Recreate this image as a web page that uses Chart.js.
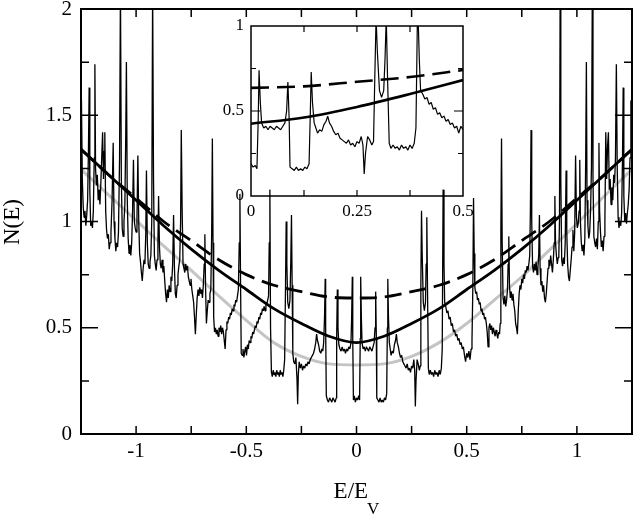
<!DOCTYPE html>
<html>
<head>
<meta charset="utf-8">
<script src="https://cdn.jsdelivr.net/npm/chart.js@4.4.1/dist/chart.umd.min.js"></script>
<style>
  body { margin: 0; background: #fff; }
  #wrap { position: relative; width: 635px; height: 518px; }
  #main { position: absolute; left: 0; top: 0; }
  #inset { position: absolute; left: 200px; top: 10px; }
</style>
</head>
<body>
<div id="wrap">
  <canvas id="main" width="635" height="518"></canvas>
  <canvas id="inset" width="280" height="225"></canvas>
</div>
<script>
// Density of states N(E), thin noisy curve (main panel)
const dosE = [
  -1.250,-1.248,-1.244,-1.240,-1.236,-1.232,-1.228,-1.224,-1.220,-1.216,
  -1.213,-1.210,-1.206,-1.202,-1.198,-1.194,-1.190,-1.187,-1.184,-1.180,
  -1.176,-1.172,-1.168,-1.164,-1.160,-1.156,-1.152,-1.148,-1.145,-1.142,
  -1.138,-1.134,-1.130,-1.126,-1.122,-1.118,-1.114,-1.109,-1.104,-1.100,
  -1.096,-1.092,-1.088,-1.084,-1.080,-1.075,-1.071,-1.067,-1.063,-1.059,
  -1.055,-1.051,-1.047,-1.044,-1.040,-1.036,-1.032,-1.028,-1.024,-1.020,
  -1.016,-1.012,-1.008,-1.004,-1.000,-0.996,-0.992,-0.988,-0.984,-0.980,
  -0.976,-0.972,-0.968,-0.964,-0.960,-0.956,-0.953,-0.949,-0.945,-0.941,
  -0.937,-0.933,-0.929,-0.925,-0.921,-0.917,-0.913,-0.909,-0.905,-0.901,
  -0.898,-0.894,-0.890,-0.886,-0.882,-0.878,-0.874,-0.870,-0.866,-0.862,
  -0.858,-0.854,-0.850,-0.846,-0.842,-0.838,-0.834,-0.830,-0.826,-0.822,
  -0.818,-0.814,-0.810,-0.806,-0.802,-0.798,-0.795,-0.791,-0.787,-0.783,
  -0.779,-0.775,-0.771,-0.767,-0.763,-0.759,-0.755,-0.751,-0.747,-0.743,
  -0.739,-0.735,-0.731,-0.727,-0.723,-0.719,-0.715,-0.711,-0.707,-0.703,
  -0.699,-0.695,-0.691,-0.688,-0.685,-0.681,-0.677,-0.673,-0.669,-0.665,
  -0.661,-0.657,-0.654,-0.651,-0.648,-0.644,-0.640,-0.636,-0.632,-0.628,
  -0.624,-0.620,-0.616,-0.612,-0.608,-0.604,-0.600,-0.596,-0.592,-0.588,
  -0.584,-0.580,-0.576,-0.572,-0.568,-0.564,-0.560,-0.556,-0.552,-0.548,
  -0.544,-0.540,-0.536,-0.532,-0.529,-0.526,-0.523,-0.519,-0.515,-0.511,
  -0.507,-0.503,-0.499,-0.495,-0.491,-0.487,-0.483,-0.479,-0.475,-0.471,
  -0.467,-0.463,-0.459,-0.455,-0.451,-0.447,-0.443,-0.439,-0.435,-0.431,
  -0.427,-0.423,-0.419,-0.415,-0.411,-0.407,-0.403,-0.399,-0.396,-0.393,
  -0.390,-0.386,-0.382,-0.378,-0.374,-0.370,-0.366,-0.362,-0.358,-0.354,
  -0.350,-0.346,-0.342,-0.338,-0.334,-0.330,-0.326,-0.322,-0.319,-0.316,
  -0.312,-0.307,-0.302,-0.298,-0.295,-0.292,-0.289,-0.285,-0.280,-0.275,
  -0.270,-0.267,-0.264,-0.260,-0.255,-0.250,-0.245,-0.240,-0.235,-0.230,
  -0.225,-0.220,-0.215,-0.210,-0.205,-0.200,-0.195,-0.190,-0.185,-0.181,
  -0.177,-0.172,-0.167,-0.162,-0.157,-0.153,-0.149,-0.145,-0.142,-0.140,
  -0.137,-0.132,-0.127,-0.122,-0.117,-0.112,-0.107,-0.102,-0.097,-0.092,
  -0.090,-0.087,-0.084,-0.080,-0.075,-0.070,-0.065,-0.060,-0.055,-0.050,
  -0.045,-0.040,-0.035,-0.030,-0.025,-0.022,-0.019,-0.017,-0.014,-0.010,
  -0.005, 0.000, 0.005, 0.010, 0.014, 0.017, 0.019, 0.022, 0.025, 0.030,
   0.035, 0.040, 0.045, 0.050, 0.055, 0.060, 0.065, 0.070, 0.075, 0.080,
   0.084, 0.087, 0.090, 0.092, 0.097, 0.102, 0.107, 0.112, 0.117, 0.122,
   0.127, 0.132, 0.137, 0.140, 0.142, 0.145, 0.149, 0.153, 0.157, 0.162,
   0.167, 0.172, 0.177, 0.181, 0.185, 0.190, 0.195, 0.200, 0.205, 0.210,
   0.215, 0.220, 0.225, 0.230, 0.235, 0.240, 0.245, 0.250, 0.255, 0.260,
   0.264, 0.267, 0.270, 0.275, 0.280, 0.285, 0.289, 0.292, 0.295, 0.298,
   0.303, 0.308, 0.313, 0.316, 0.319, 0.322, 0.326, 0.330, 0.335, 0.340,
   0.345, 0.350, 0.355, 0.360, 0.365, 0.370, 0.375, 0.380, 0.385, 0.389,
   0.393, 0.397, 0.400, 0.405, 0.410, 0.415, 0.420, 0.425, 0.430, 0.435,
   0.440, 0.445, 0.450, 0.455, 0.460, 0.465, 0.470, 0.475, 0.480, 0.485,
   0.490, 0.495, 0.500, 0.505, 0.510, 0.515, 0.520, 0.524, 0.528, 0.531,
   0.534, 0.537, 0.541, 0.545, 0.549, 0.553, 0.557, 0.561, 0.565, 0.569,
   0.573, 0.577, 0.581, 0.585, 0.589, 0.593, 0.597, 0.601, 0.605, 0.609,
   0.613, 0.617, 0.621, 0.625, 0.629, 0.633, 0.637, 0.641, 0.645, 0.649,
   0.652, 0.655, 0.658, 0.661, 0.665, 0.669, 0.673, 0.677, 0.681, 0.685,
   0.688, 0.691, 0.694, 0.698, 0.702, 0.706, 0.710, 0.714, 0.718, 0.722,
   0.726, 0.730, 0.734, 0.738, 0.742, 0.746, 0.750, 0.754, 0.758, 0.762,
   0.766, 0.770, 0.774, 0.778, 0.782, 0.786, 0.789, 0.792, 0.795, 0.799,
   0.803, 0.807, 0.811, 0.815, 0.819, 0.823, 0.827, 0.830, 0.833, 0.837,
   0.841, 0.845, 0.849, 0.853, 0.857, 0.861, 0.865, 0.869, 0.873, 0.877,
   0.881, 0.885, 0.889, 0.893, 0.897, 0.900, 0.903, 0.907, 0.911, 0.915,
   0.918, 0.921, 0.924, 0.927, 0.931, 0.935, 0.939, 0.943, 0.947, 0.951,
   0.954, 0.958, 0.962, 0.966, 0.970, 0.974, 0.978, 0.982, 0.986, 0.990,
   0.994, 0.998, 1.002, 1.006, 1.010, 1.013, 1.016, 1.020, 1.024, 1.028,
   1.032, 1.036, 1.040, 1.043, 1.046, 1.050, 1.054, 1.058, 1.062, 1.066,
   1.070, 1.073, 1.077, 1.081, 1.085, 1.089, 1.093, 1.097, 1.100, 1.103,
   1.107, 1.111, 1.115, 1.119, 1.123, 1.127, 1.131, 1.135, 1.139, 1.143,
   1.147, 1.151, 1.155, 1.159, 1.163, 1.167, 1.171, 1.175, 1.179, 1.183,
   1.187, 1.191, 1.195, 1.199, 1.203, 1.207, 1.210, 1.213, 1.217, 1.221,
   1.225, 1.229, 1.233, 1.237, 1.241, 1.245, 1.248, 1.250
];
const dosN = [
  1.30,1.57,1.20,1.07,1.02,1.05,0.98,1.03,1.10,1.35,
  1.63,1.15,0.98,1.00,0.97,1.05,1.30,1.74,1.25,1.17,
  1.22,1.10,1.15,1.08,1.18,1.30,1.42,1.20,1.33,1.42,
  1.05,0.96,0.92,0.94,0.87,0.90,0.95,1.10,1.37,1.00,
  0.92,0.86,0.90,0.88,0.95,1.30,2.10,1.20,0.97,0.93,
  1.00,1.08,1.40,1.75,1.10,0.92,0.85,0.89,0.84,0.90,
  1.05,1.29,1.00,0.97,0.95,1.02,1.31,1.00,0.85,0.81,
  0.76,0.72,0.78,0.82,0.80,0.95,1.24,0.90,0.80,0.78,
  0.81,0.84,1.00,2.10,1.20,0.84,0.80,0.77,0.82,0.90,
  1.12,0.88,0.80,0.78,0.82,0.76,0.79,0.72,0.66,0.62,
  0.68,0.64,0.70,0.67,0.74,0.72,0.80,1.03,0.78,0.66,
  0.64,0.70,0.75,0.79,0.82,1.00,1.43,1.05,0.80,0.78,
  0.76,0.80,0.77,0.79,0.74,0.72,0.70,0.73,0.68,0.65,
  0.62,0.55,0.47,0.56,0.64,0.68,0.65,0.69,0.66,0.68,
  0.64,0.70,0.80,0.94,0.70,0.52,0.58,0.63,0.62,0.66,
  0.68,0.95,1.39,0.90,0.55,0.48,0.50,0.47,0.49,0.46,
  0.50,0.48,0.51,0.47,0.50,0.48,0.44,0.40,0.49,0.53,
  0.52,0.55,0.54,0.57,0.56,0.59,0.58,0.61,0.60,0.63,
  0.62,0.65,0.68,0.90,1.13,0.70,0.38,0.37,0.40,0.36,
  0.39,0.41,0.37,0.42,0.40,0.44,0.43,0.46,0.45,0.48,
  0.47,0.49,0.51,0.50,0.53,0.52,0.55,0.54,0.57,0.56,
  0.59,0.58,0.60,0.58,0.62,0.61,0.63,0.65,0.90,1.15,
  0.50,0.29,0.27,0.30,0.28,0.29,0.27,0.30,0.28,0.29,
  0.27,0.30,0.28,0.29,0.27,0.30,0.35,0.70,1.00,0.80,
  0.62,0.59,0.63,0.82,1.03,0.70,0.38,0.34,0.33,0.36,
  0.26,0.14,0.28,0.34,0.31,0.33,0.30,0.32,0.31,0.33,
  0.32,0.34,0.33,0.35,0.36,0.37,0.38,0.40,0.43,0.47,
  0.44,0.42,0.39,0.38,0.40,0.39,0.43,0.55,0.73,0.50,
  0.18,0.16,0.15,0.17,0.16,0.15,0.17,0.16,0.15,0.17,
  0.45,0.68,0.50,0.42,0.40,0.39,0.41,0.39,0.40,0.38,
  0.40,0.39,0.41,0.40,0.43,0.55,0.74,0.45,0.16,0.18,
  0.15,0.17,0.16,0.18,0.16,0.45,0.74,0.55,0.43,0.40,
  0.41,0.39,0.41,0.40,0.39,0.41,0.40,0.39,0.41,0.43,
  0.50,0.67,0.45,0.17,0.16,0.15,0.17,0.15,0.16,0.15,
  0.17,0.16,0.19,0.50,0.73,0.55,0.43,0.40,0.37,0.39,
  0.38,0.42,0.44,0.47,0.43,0.41,0.38,0.36,0.37,0.34,
  0.33,0.32,0.31,0.33,0.30,0.31,0.29,0.32,0.31,0.35,
  0.30,0.13,0.25,0.35,0.33,0.30,0.32,0.70,1.05,0.85,
  0.62,0.58,0.62,0.80,1.02,0.70,0.31,0.28,0.30,0.28,
  0.29,0.27,0.30,0.28,0.29,0.27,0.30,0.28,0.31,0.40,
  1.15,0.80,0.62,0.60,0.57,0.58,0.54,0.55,0.51,0.52,
  0.48,0.49,0.46,0.47,0.44,0.45,0.42,0.43,0.40,0.41,
  0.37,0.34,0.38,0.36,0.39,0.35,0.40,0.44,0.70,1.11,
  0.85,0.69,0.66,0.67,0.63,0.64,0.61,0.62,0.58,0.59,
  0.56,0.57,0.54,0.55,0.52,0.48,0.41,0.50,0.52,0.49,
  0.51,0.47,0.50,0.48,0.46,0.49,0.47,0.45,0.48,0.47,
  0.52,0.95,1.39,0.90,0.64,0.61,0.65,0.60,0.63,0.68,
  0.80,0.93,0.70,0.64,0.67,0.63,0.66,0.61,0.58,0.52,
  0.50,0.47,0.58,0.66,0.70,0.68,0.73,0.71,0.75,0.73,
  0.77,0.76,0.79,0.77,0.80,0.84,1.05,1.43,1.00,0.79,
  0.76,0.80,0.77,0.81,0.75,0.78,0.85,1.03,0.78,0.70,
  0.72,0.67,0.70,0.64,0.62,0.66,0.72,0.78,0.82,0.79,
  0.84,0.80,0.76,0.82,0.90,1.12,0.90,0.84,0.80,0.83,
  0.84,1.00,2.10,1.20,0.82,0.79,0.83,0.80,0.90,1.24,
  0.95,0.80,0.74,0.72,0.77,0.82,0.88,0.96,0.86,0.95,
  1.31,1.02,0.97,0.99,1.05,1.29,1.00,0.90,0.86,0.89,
  0.84,0.92,1.30,1.75,1.10,0.98,0.92,0.95,1.05,1.25,
  2.10,1.20,0.93,0.90,0.88,0.92,0.87,1.00,1.37,1.05,
  0.95,0.88,0.91,0.86,0.93,1.00,1.42,1.20,1.35,1.42,
  1.15,1.20,1.08,1.16,1.10,1.22,1.18,1.30,1.74,1.25,
  1.02,0.97,1.00,0.98,1.04,1.30,1.63,1.12,1.00,1.04,
  0.99,1.04,1.08,1.15,1.30,1.57,1.40,1.30
];

// Smooth model curves (main panel)
const smoothE = [-1.25,-1.125,-1,-0.875,-0.75,-0.625,-0.5,-0.375,-0.25,-0.125,0,
                 0.125,0.25,0.375,0.5,0.625,0.75,0.875,1,1.125,1.25];
const solidN  = [1.34,1.22,1.10,0.98,0.87,0.77,0.68,0.59,0.52,0.46,0.43,
                 0.46,0.52,0.59,0.68,0.77,0.87,0.98,1.10,1.22,1.34];
const dashedN = [1.34,1.22,1.11,1.00,0.91,0.82,0.75,0.70,0.67,0.645,0.64,
                 0.645,0.67,0.70,0.75,0.82,0.91,1.00,1.11,1.22,1.34];
const grayN   = [1.245,1.125,1.005,0.885,0.77,0.65,0.535,0.43,0.365,0.33,0.325,
                 0.33,0.365,0.43,0.52,0.63,0.74,0.865,0.99,1.12,1.245];

// Inset: zoom on 0 <= E <= 0.5
const insetE = [
  0.000,0.005,0.010,0.014,0.017,0.019,0.022,0.025,0.030,0.035,
  0.040,0.045,0.050,0.055,0.060,0.065,0.070,0.075,0.080,0.084,
  0.087,0.090,0.092,0.097,0.102,0.107,0.112,0.117,0.122,0.127,
  0.132,0.137,0.140,0.142,0.145,0.149,0.153,0.157,0.162,0.167,
  0.172,0.177,0.181,0.185,0.190,0.195,0.200,0.205,0.210,0.215,
  0.220,0.225,0.230,0.235,0.240,0.245,0.250,0.255,0.260,0.264,
  0.267,0.270,0.275,0.280,0.285,0.289,0.292,0.295,0.298,0.303,
  0.308,0.313,0.316,0.319,0.322,0.326,0.330,0.335,0.340,0.345,
  0.350,0.355,0.360,0.365,0.370,0.375,0.380,0.385,0.389,0.393,
  0.397,0.400,0.405,0.410,0.415,0.420,0.425,0.430,0.435,0.440,
  0.445,0.450,0.455,0.460,0.465,0.470,0.475,0.480,0.485,0.490,
  0.495,0.500
];
const insetN = [
  0.19,0.17,0.18,0.16,0.45,0.74,0.55,0.43,0.40,0.41,
  0.39,0.41,0.40,0.39,0.41,0.40,0.39,0.41,0.43,0.50,
  0.67,0.45,0.17,0.16,0.15,0.17,0.15,0.16,0.15,0.17,
  0.16,0.19,0.50,0.73,0.55,0.43,0.40,0.37,0.39,0.38,
  0.42,0.44,0.47,0.43,0.41,0.38,0.36,0.37,0.34,0.33,
  0.32,0.31,0.33,0.30,0.31,0.29,0.32,0.31,0.35,0.30,
  0.13,0.25,0.35,0.33,0.30,0.32,0.70,1.05,0.85,0.62,
  0.58,0.62,0.80,1.05,0.70,0.31,0.28,0.30,0.28,0.29,
  0.27,0.30,0.28,0.29,0.27,0.30,0.28,0.31,0.40,1.15,
  0.80,0.62,0.60,0.57,0.58,0.54,0.55,0.51,0.52,0.48,
  0.49,0.46,0.47,0.44,0.45,0.42,0.43,0.40,0.41,0.37,
  0.41,0.39
];
const insetSmoothE = [0, 0.125, 0.25, 0.375, 0.5];
const insetSolidN  = [0.425, 0.462, 0.524, 0.60, 0.682];
const insetDashedN = [0.636, 0.645, 0.672, 0.70, 0.741];

// Tick labels and tick marks
const xTickLabels = [-1, -0.5, 0, 0.5, 1];
const yTickLabels = [0, 0.5, 1, 1.5, 2];
const xTickMarks = [-1, -0.75, -0.5, -0.25, 0, 0.25, 0.5, 0.75, 1];
const yMajorMarks = [0.5, 1, 1.5];
const yMinorMarks = [0.25, 0.75, 1.25, 1.75];
const insetXLabels = [0, 0.25, 0.5];
const insetYLabels = [0, 0.5, 1];
const insetXMarks = [0.125, 0.25, 0.375];
const insetYMajor = [0.5];
const insetYMinor = [0.25, 0.75];

const SERIF = "'Liberation Serif', 'DejaVu Serif', serif";
Chart.defaults.font.family = SERIF;
Chart.defaults.color = '#000';

const pts = (xs, ys) => xs.map((x, i) => ({ x: x, y: ys[i] }));

// frame, inward tick marks on four sides, axis titles
const framePlugin = {
  id: 'frame',
  afterDraw(chart, args, o) {
    const ctx = chart.ctx;
    const a = chart.chartArea;
    const xs = chart.scales.x, ys = chart.scales.y;
    ctx.save();
    ctx.strokeStyle = '#000';
    ctx.lineWidth = o.tickWidth;
    ctx.beginPath();
    o.xMarks.forEach(v => {
      const px = xs.getPixelForValue(v);
      ctx.moveTo(px, a.bottom); ctx.lineTo(px, a.bottom - o.xLen);
      ctx.moveTo(px, a.top); ctx.lineTo(px, a.top + o.xLen);
    });
    o.yMajor.forEach(v => {
      const py = ys.getPixelForValue(v);
      ctx.moveTo(a.left, py); ctx.lineTo(a.left + o.yMajorLen, py);
      ctx.moveTo(a.right, py); ctx.lineTo(a.right - o.yMajorLen, py);
    });
    o.yMinor.forEach(v => {
      const py = ys.getPixelForValue(v);
      ctx.moveTo(a.left, py); ctx.lineTo(a.left + o.yMinorLen, py);
      ctx.moveTo(a.right, py); ctx.lineTo(a.right - o.yMinorLen, py);
    });
    ctx.stroke();
    ctx.lineWidth = o.frameWidth;
    ctx.strokeRect(a.left, a.top, a.right - a.left, a.bottom - a.top);

    if (o.titles) {
      ctx.fillStyle = '#000';
      ctx.font = '23px ' + SERIF;
      ctx.save();
      ctx.translate(13, 222);
      ctx.rotate(-Math.PI / 2);
      ctx.textAlign = 'center';
      ctx.textBaseline = 'middle';
      ctx.fillText('N(E)', 0, 0);
      ctx.restore();

      ctx.textAlign = 'left';
      ctx.textBaseline = 'alphabetic';
      const main = 'E/E';
      const w1 = ctx.measureText(main).width;
      ctx.font = '17px ' + SERIF;
      const w2 = ctx.measureText('V').width;
      const x0 = 357 - (w1 + w2) / 2;
      ctx.font = '23px ' + SERIF;
      ctx.fillText(main, x0, 498);
      ctx.font = '17px ' + SERIF;
      ctx.fillText('V', x0 + w1 - 1, 514);
    }
    ctx.restore();
  }
};

function axis(min, max, labels, size, pad, horizontal, extent) {
  return {
    type: 'linear',
    min: min,
    max: max,
    grid: { display: false, drawTicks: false },
    border: { display: false },
    ticks: {
      font: { size: size },
      color: '#000',
      padding: pad,
      maxRotation: 0,
      autoSkip: false,
      callback: v => String(v)
    },
    afterBuildTicks: s => { s.ticks = labels.map(v => ({ value: v })); },
    afterFit: s => {
      if (horizontal) { s.height = extent; s.paddingLeft = 0; s.paddingRight = 0; }
      else { s.width = extent; s.paddingTop = 0; s.paddingBottom = 0; }
    }
  };
}

const line = (data, color, width, extra) => Object.assign({
  data: data,
  borderColor: color,
  borderWidth: width,
  pointRadius: 0,
  pointHoverRadius: 0,
  fill: false,
  tension: 0,
  borderJoinStyle: 'bevel'
}, extra || {});

const smooth = { tension: 0.4, cubicInterpolationMode: 'monotone', borderJoinStyle: 'round' };

// Main panel
new Chart(document.getElementById('main'), {
  type: 'line',
  data: {
    datasets: [
      line(pts(dosE, dosN), '#000', 1.3),
      line(pts(smoothE, solidN), '#000', 2.8, smooth),
      line(pts(smoothE, dashedN), '#000', 2.8, Object.assign({ borderDash: [17, 8] }, smooth)),
      line(pts(smoothE, grayN), '#c4c4c4', 3, smooth)
    ]
  },
  options: {
    responsive: false,
    animation: false,
    devicePixelRatio: 1,
    events: [],
    layout: { padding: { left: 0, top: 9, right: 3, bottom: 0 } },
    plugins: {
      legend: { display: false },
      tooltip: { enabled: false },
      frame: {
        xMarks: xTickMarks, yMajor: yMajorMarks, yMinor: yMinorMarks,
        xLen: 8, yMajorLen: 17, yMinorLen: 8,
        tickWidth: 1.5, frameWidth: 2, titles: true
      }
    },
    scales: {
      x: axis(-1.25, 1.25, xTickLabels, 21, 5, true, 84),
      y: axis(0, 2, yTickLabels, 21, 9, false, 81)
    }
  },
  plugins: [framePlugin]
});

// Inset panel
new Chart(document.getElementById('inset'), {
  type: 'line',
  data: {
    datasets: [
      line(pts(insetE, insetN), '#000', 1.2),
      line(pts(insetSmoothE, insetSolidN), '#000', 2.6, smooth),
      line(pts(insetSmoothE, insetDashedN), '#000', 2.6, Object.assign({ borderDash: [18, 8] }, smooth))
    ]
  },
  options: {
    responsive: false,
    animation: false,
    devicePixelRatio: 1,
    events: [],
    layout: { padding: { left: 0, top: 16, right: 17, bottom: 0 } },
    plugins: {
      legend: { display: false },
      tooltip: { enabled: false },
      frame: {
        xMarks: insetXMarks, yMajor: insetYMajor, yMinor: insetYMinor,
        xLen: 6, yMajorLen: 9, yMinorLen: 5,
        tickWidth: 1.2, frameWidth: 1.5, titles: false
      }
    },
    scales: {
      x: axis(0, 0.5, insetXLabels, 17, 5, true, 39),
      y: axis(0, 1, insetYLabels, 17, 7, false, 51)
    }
  },
  plugins: [framePlugin]
});
</script>
</body>
</html>
